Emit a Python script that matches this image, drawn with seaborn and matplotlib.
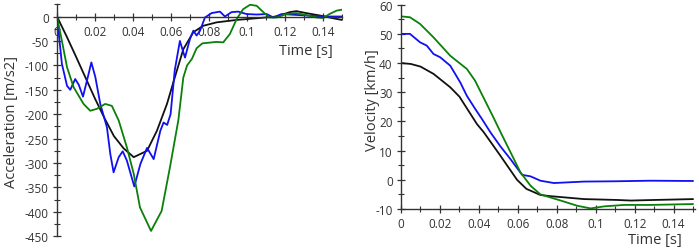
import matplotlib
matplotlib.use("Agg")
import matplotlib.pyplot as plt
import seaborn as sns
import pandas as pd
from matplotlib.ticker import MultipleLocator, FixedLocator

sns.set_theme(style="white")
plt.rcParams['font.family'] = ['Open Sans', 'DejaVu Sans']
plt.rcParams['axes.unicode_minus'] = False

BLACK = '#111111'
BLUE = '#1010f0'
GREEN = '#0a800a'
TEXT = '#333333'

# Acceleration [m/s2] vs time [s]
acc_black_t = [0, 0.005, 0.01, 0.015, 0.02, 0.025, 0.03, 0.0351, 0.0404, 0.0474, 0.0526,
               0.0579, 0.062, 0.0665, 0.0718, 0.077, 0.084, 0.0946, 0.1068, 0.1156, 0.1226,
               0.126, 0.1312, 0.1384, 0.1472, 0.15]
acc_black = [0, -40, -82, -125, -168, -208, -245, -270, -288, -275, -234,
             -179, -125, -67, -32, -19, -12, -7, -3, 0, 9,
             11, 7, 2, -5, -7]

acc_blue_t = [0, 0.0026, 0.0053, 0.007, 0.0096, 0.0115, 0.0137, 0.0158, 0.0181, 0.0202,
              0.0228, 0.0263, 0.0281, 0.0298, 0.0325, 0.0346, 0.0368, 0.0407, 0.0439,
              0.0474, 0.0509, 0.0544, 0.0561, 0.058, 0.0598, 0.062, 0.0647, 0.0665,
              0.0674, 0.07, 0.0718, 0.0735, 0.0753, 0.0779, 0.0814, 0.0858, 0.0884,
              0.0919, 0.0954, 0.0998, 0.1051, 0.1104, 0.1139, 0.1182, 0.1226, 0.1314,
              0.14, 0.15]
acc_blue = [0, -97, -142, -150, -128, -140, -164, -131, -94, -124,
            -179, -227, -282, -319, -288, -276, -295, -348, -302,
            -269, -292, -234, -217, -222, -200, -110, -50, -73,
            -84, -46, -29, -39, -29, -2, 7, 10, 0,
            9, 10, 5, 4, 5, -2, 5, 4, 2,
            0, 0]

acc_green_t = [0, 0.0026, 0.0053, 0.0088, 0.014, 0.0175, 0.021, 0.0254, 0.0289, 0.0325,
               0.0368, 0.0404, 0.0437, 0.0495, 0.0551, 0.0595, 0.0639, 0.0665, 0.0685,
               0.071, 0.0735, 0.0765, 0.084, 0.0875, 0.091, 0.0946, 0.098, 0.1016, 0.1051,
               0.1086, 0.1118, 0.1156, 0.1207, 0.1259, 0.1312, 0.1367, 0.1402, 0.1434,
               0.1472, 0.15]
acc_green = [0, -50, -104, -145, -179, -193, -189, -179, -183, -213,
             -268, -322, -391, -439, -398, -308, -212, -125, -100,
             -87, -65, -55, -52, -53, -36, -5, 15, 24, 22,
             9, -2, -2, 5, 7, 3, -2, -3, 5,
             12, 14]

# Velocity [km/h] vs time [s]
vel_black_t = [0, 0.005, 0.01, 0.0167, 0.0253, 0.03, 0.039, 0.0425, 0.051, 0.0596, 0.0644,
               0.0716, 0.0768, 0.094, 0.111, 0.118, 0.13, 0.15]
vel_black = [40, 39.7, 38.8, 36.3, 31.7, 28.5, 19.1, 16.3, 8.3, 0, -3.1,
             -5.2, -5.6, -6.6, -6.9, -7.1, -6.9, -6.6]

vel_blue_t = [0, 0.0046, 0.0098, 0.0132, 0.0167, 0.0201, 0.0253, 0.0304, 0.0338, 0.0381,
              0.0416, 0.0459, 0.051, 0.0562, 0.0622, 0.0665, 0.0716, 0.0785, 0.094, 0.11,
              0.128, 0.15]
vel_blue = [50, 50, 47.1, 46, 43.1, 42, 39.1, 33.4, 28.8, 24.3,
            20.8, 16.3, 11.5, 7.1, 1.7, 1.2, -0.3, -1.1, -0.6, -0.5,
            -0.3, -0.4]

vel_green_t = [0, 0.0046, 0.0098, 0.0167, 0.0253, 0.0338, 0.038, 0.0425, 0.047, 0.051,
               0.0562, 0.0613, 0.0665, 0.0716, 0.082, 0.0906, 0.0974, 0.1043, 0.1147,
               0.128, 0.15]
vel_green = [56, 55.7, 53.4, 48.8, 42.5, 38, 34, 28, 22, 16.5,
             9.5, 2.6, -2, -5.0, -7.1, -8.9, -9.8, -9.1, -8.6,
             -8.6, -8.3]

x_tick_vals = [0, 0.02, 0.04, 0.06, 0.08, 0.1, 0.12, 0.14]
x_tick_labels = ['0', '0.02', '0.04', '0.06', '0.08', '0.1', '0.12', '0.14']


def draw(ax, series):
    for t, v, c in series:
        df = pd.DataFrame({'t': t, 'v': v})
        sns.lineplot(data=df, x='t', y='v', ax=ax, color=c, linewidth=1.3,
                     estimator=None, sort=False)
    ax.set_xlabel('')
    ax.set_ylabel('')


def style_axis(ax):
    for side in ['top', 'right']:
        ax.spines[side].set_visible(False)
    for side in ['left', 'bottom']:
        ax.spines[side].set_color(TEXT)
        ax.spines[side].set_linewidth(1.0)
    ax.tick_params(which='major', direction='inout', length=6, width=0.9,
                   color=TEXT, labelcolor=TEXT, labelsize=8.5, pad=3)
    ax.tick_params(which='minor', direction='inout', length=4, width=0.8, color=TEXT)
    ax.tick_params(axis='x', which='both', bottom=True)
    ax.tick_params(axis='y', which='both', left=True)
    ax.xaxis.set_major_locator(FixedLocator(x_tick_vals))
    ax.set_xticklabels(x_tick_labels)
    ax.xaxis.set_minor_locator(MultipleLocator(0.01))
    ax.grid(False)


fig = plt.figure(figsize=(6.99, 2.51), dpi=100)

# left: acceleration
ax1 = fig.add_axes([0.0815, 0.0546, 0.4077, 0.9243])
draw(ax1, [(acc_black_t, acc_black, BLACK), (acc_blue_t, acc_blue, BLUE),
           (acc_green_t, acc_green, GREEN)])
ax1.set_xlim(0, 0.15)
style_axis(ax1)
ax1.spines['bottom'].set_position(('data', 0))
ax1.yaxis.set_major_locator(MultipleLocator(50))
ax1.yaxis.set_minor_locator(MultipleLocator(25))
ax1.set_ylim(-450, 25)

# right: velocity
ax2 = fig.add_axes([0.5737, 0.1633, 0.4206, 0.8140])
draw(ax2, [(vel_black_t, vel_black, BLACK), (vel_blue_t, vel_blue, BLUE),
           (vel_green_t, vel_green, GREEN)])
ax2.set_xlim(0, 0.151)
style_axis(ax2)
ax2.yaxis.set_major_locator(MultipleLocator(10))
ax2.yaxis.set_minor_locator(MultipleLocator(5))
ax2.set_ylim(-10, 60)

fig.text(333 / 699, 1 - 52 / 251, 'Time [s]', ha='right', va='center',
         fontsize=10.5, color=TEXT)
fig.text(682 / 699, 1 - 241 / 251, 'Time [s]', ha='right', va='center',
         fontsize=10.5, color=TEXT)
fig.text(12 / 699, 1 - 122 / 251, 'Acceleration [m/s2]', rotation=90,
         ha='center', va='center', fontsize=10.5, color=TEXT)
fig.text(372 / 699, 1 - 100 / 251, 'Velocity [km/h]', rotation=90,
         ha='center', va='center', fontsize=10.5, color=TEXT)

fig.savefig('out.png', dpi=100)
